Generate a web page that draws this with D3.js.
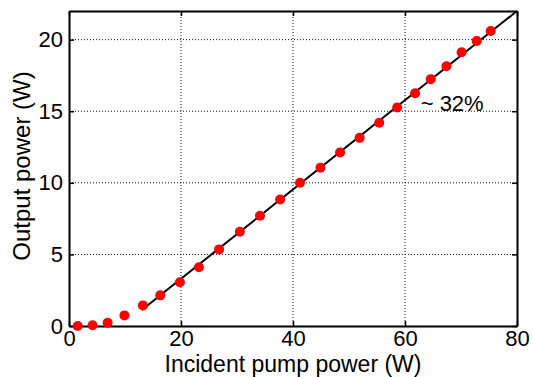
<!DOCTYPE html>
<html>
<head>
<meta charset="utf-8">
<script src="https://cdn.jsdelivr.net/npm/d3@7"></script>
<style>
body { margin: 0; background: #fff; }
text { font-family: Arial, "Liberation Sans", Helvetica, sans-serif; }
</style>
</head>
<body>
<svg id="chart" width="533" height="377"></svg>
<script>
// measured points (incident pump power W, output power W)
var pumpPower = [1.55, 4.2, 6.9, 9.9, 13.2, 16.3, 19.8, 23.2, 26.8, 30.5, 34.1, 37.7,
                 41.25, 44.9, 48.4, 51.9, 55.4, 58.6, 61.8, 64.6, 67.4, 70.1, 72.8, 75.3]
var outputPower = [0.0, 0.05, 0.23, 0.74, 1.44, 2.14, 3.05, 4.1, 5.35, 6.58, 7.7, 8.84,
                   10.0, 11.05, 12.12, 13.14, 14.19, 15.26, 16.26, 17.24, 18.14, 19.12, 19.91, 20.6]
// linear fit, slope ~32%
var fitX = [13, 80]
var fitY = [1.12, 22]
var xTicks = [0, 20, 40, 60, 80]
var yTicks = [0, 5, 10, 15, 20]
var annotation = "~ 32%"

var svg = d3.select("#chart")
var margin = {left: 69, right: 16, top: 11, bottom: 51}
var W = 533 - margin.left - margin.right
var H = 377 - margin.top - margin.bottom

var x = d3.scaleLinear().domain([0, 80]).range([0, W])
var y = d3.scaleLinear().domain([0, 22]).range([H, 0])

var g = svg.append("g").attr("transform", "translate(" + margin.left + "," + margin.top + ")")

// dotted grid
g.selectAll(".gx").data(xTicks.slice(1, -1)).enter().append("line")
    .attr("x1", d => x(d)).attr("x2", d => x(d))
    .attr("y1", 0).attr("y2", H)
    .attr("stroke", "#111").attr("stroke-width", 1).attr("stroke-dasharray", "1,2")
g.selectAll(".gy").data(yTicks.slice(1)).enter().append("line")
    .attr("x1", 0).attr("x2", W)
    .attr("y1", d => y(d)).attr("y2", d => y(d))
    .attr("stroke", "#111").attr("stroke-width", 1).attr("stroke-dasharray", "1,2")

// axes with inward ticks (box style)
var xAxis = g.append("g").attr("transform", "translate(0," + H + ")")
    .call(d3.axisBottom(x).tickValues(xTicks).tickSizeInner(-5).tickSizeOuter(0).tickPadding(10))
var xTop = g.append("g")
    .call(d3.axisTop(x).tickValues(xTicks).tickSizeInner(-5).tickSizeOuter(0).tickFormat(""))
var yAxis = g.append("g")
    .call(d3.axisLeft(y).tickValues(yTicks).tickSizeInner(-5).tickSizeOuter(0).tickPadding(6))
var yRight = g.append("g").attr("transform", "translate(" + W + ",0)")
    .call(d3.axisRight(y).tickValues(yTicks).tickSizeInner(-5).tickSizeOuter(0).tickFormat(""))

svg.selectAll(".domain").attr("stroke", "#000").attr("stroke-width", 2)
svg.selectAll(".tick line").attr("stroke", "#000").attr("stroke-width", 1.5)
svg.selectAll(".tick text").attr("font-size", "22px").attr("fill", "#000")
    .style("font-family", "Arial, 'Liberation Sans', sans-serif")
xAxis.selectAll(".tick text").attr("dy", "0.71em").attr("y", 4.4)

// fit line
g.append("line")
    .attr("x1", x(fitX[0])).attr("y1", y(fitY[0]))
    .attr("x2", x(fitX[1])).attr("y2", y(fitY[1]))
    .attr("stroke", "#000").attr("stroke-width", 2)

// data points
g.selectAll("circle").data(pumpPower).enter().append("circle")
    .attr("cx", d => x(d))
    .attr("cy", (d, i) => y(outputPower[i]))
    .attr("r", 5)
    .attr("fill", "#ff0000")

// annotation
g.append("text")
    .attr("x", x(62.8)).attr("y", y(15.0))
    .attr("font-size", "22px").attr("fill", "#000")
    .text(annotation)

// axis labels
svg.append("text")
    .attr("x", margin.left + W / 2).attr("y", 372)
    .attr("text-anchor", "middle").attr("font-size", "23px")
    .text("Incident pump power (W)")
svg.append("text")
    .attr("transform", "translate(30," + 166 + ") rotate(-90)")
    .attr("text-anchor", "middle").attr("font-size", "24px")
    .text("Output power (W)")
</script>
</body>
</html>
